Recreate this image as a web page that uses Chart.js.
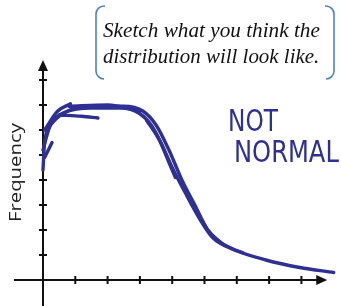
<!DOCTYPE html>
<html>
<head>
<meta charset="utf-8">
<script src="https://cdn.jsdelivr.net/npm/chart.js@4/dist/chart.umd.min.js"></script>
<style>
  html, body { margin: 0; padding: 0; background: #fff; }
  #wrap { position: relative; width: 341px; height: 306px; overflow: hidden; }
  canvas { position: absolute; left: 0; top: 0; }
  .txt { position: absolute; white-space: nowrap; transform-origin: 0 0; line-height: 1; }
  .prompt { font-family: "Liberation Serif", serif; font-style: italic; font-size: 22px; color: #111; }
  .hand { font-family: "DejaVu Sans Condensed", "DejaVu Sans", sans-serif; font-size: 31px; color: #2E3192; }
  #freq { font-family: "Open Sans", sans-serif; font-size: 16px; color: #222; }
</style>
</head>
<body>
<div id="wrap">
  <canvas id="c" width="341" height="306"></canvas>
  <div class="txt prompt" id="p1">Sketch what you think the</div>
  <div class="txt prompt" id="p2">distribution will look like.</div>
  <div class="txt hand" id="n1">NOT</div>
  <div class="txt hand" id="n2">NORMAL</div>
  <div class="txt" id="freq">Frequency</div>
</div>
<script>
// tick positions on the sketched axes (no numbers are printed)
const xTicks = [1, 2, 3, 4, 5, 6, 7, 8];
const yTicks = [1, 2, 3, 4, 5, 6, 7, 8];

// the pen strokes (x = bins, y = frequency)
const strokeMain = [[0, 5.2], [0.2, 6.1], [0.7, 6.72], [1.5, 6.88], [2.4, 6.88], [3.0, 6.65], [3.35, 6.2], [3.65, 5.5], [4.0, 4.5], [4.4, 3.5], [4.85, 2.45], [5.25, 1.7], [5.9, 1.22], [6.9, 0.8], [7.95, 0.5], [9.0, 0.3]];
const strokeTwo = [[0, 4.4], [0.05, 5.5], [0.3, 6.3], [0.8, 6.78], [1.6, 6.95], [2.5, 6.95], [3.1, 6.75], [3.5, 6.2], [3.9, 5.2], [4.3, 4.0], [4.7, 3.0], [5.1, 2.0], [5.5, 1.5]];
const strokeTip = [[0.05, 6.0], [0.45, 6.75], [0.85, 7.05]];
const strokeLow = [[0.5, 6.6], [1.2, 6.55], [1.7, 6.48]];
const strokeTop = [[0.8, 6.95], [2.0, 7.0], [3.0, 6.75]];
const strokeNick = [[0.05, 4.9], [0.28, 5.5]];
const strokeMid = [[3.2, 6.4], [3.6, 5.6], [3.9, 4.7], [4.1, 4.1]];
const strokeLate = [[4.3, 3.9], [4.7, 2.9], [5.1, 2.0], [5.4, 1.6], [5.85, 1.25], [6.2, 1.08]];

const pen = '#2E3192';
const strokes = [strokeMain, strokeTwo, strokeTip, strokeLow, strokeTop, strokeNick, strokeMid, strokeLate];

const axesPlugin = {
  id: 'sketchAxes',
  beforeDatasetsDraw(chart) {
    const { ctx, scales: { x, y } } = chart;
    const ox = x.getPixelForValue(0), oy = y.getPixelForValue(0);
    const xEnd = x.getPixelForValue(8.8), yEnd = y.getPixelForValue(8.8);
    ctx.save();
    ctx.strokeStyle = '#111';
    ctx.fillStyle = '#111';
    ctx.lineWidth = 2;
    ctx.beginPath();
    ctx.moveTo(x.getPixelForValue(-0.9), oy);
    ctx.lineTo(xEnd - 6, oy);
    ctx.moveTo(ox, y.getPixelForValue(-1.1));
    ctx.lineTo(ox, yEnd + 6);
    ctx.stroke();
    xTicks.forEach(t => {
      const px = x.getPixelForValue(t);
      ctx.beginPath(); ctx.moveTo(px, oy - 4); ctx.lineTo(px, oy + 4); ctx.stroke();
    });
    yTicks.forEach(t => {
      const py = y.getPixelForValue(t);
      ctx.beginPath(); ctx.moveTo(ox - 4, py); ctx.lineTo(ox + 4, py); ctx.stroke();
    });
    // arrow heads
    ctx.beginPath();
    ctx.moveTo(xEnd, oy); ctx.lineTo(xEnd - 11, oy - 5); ctx.lineTo(xEnd - 11, oy + 5); ctx.closePath(); ctx.fill();
    ctx.beginPath();
    ctx.moveTo(ox, yEnd); ctx.lineTo(ox - 5, yEnd + 11); ctx.lineTo(ox + 5, yEnd + 11); ctx.closePath(); ctx.fill();

    // bracket box round the prompt
    ctx.strokeStyle = '#4F81BD';
    ctx.lineWidth = 1.6;
    const L = 96, R = 334, T = 6, B = 79, r = 8;
    ctx.beginPath();
    ctx.moveTo(L + 9, T); ctx.arcTo(L, T, L, T + r, r); ctx.lineTo(L, B - r); ctx.arcTo(L, B, L + 9, B, r);
    ctx.moveTo(R - 9, T); ctx.arcTo(R, T, R, T + r, r); ctx.lineTo(R, B - r); ctx.arcTo(R, B, R - 9, B, r);
    ctx.stroke();
    ctx.restore();
  }
};

new Chart(document.getElementById('c'), {
  type: 'line',
  data: {
    datasets: strokes.map(s => ({
      data: s.map(([a, b]) => ({ x: a, y: b })),
      borderColor: pen,
      borderWidth: 3.4,
      borderCapStyle: 'round',
      borderJoinStyle: 'round',
      cubicInterpolationMode: 'monotone',
      pointRadius: 0,
      fill: false
    }))
  },
  options: {
    responsive: false,
    animation: false,
    layout: { padding: 0 },
    plugins: { legend: { display: false }, tooltip: { enabled: false } },
    scales: {
      x: { type: 'linear', display: false, min: -1.331, max: 9.226 },
      y: { type: 'linear', display: false, min: -1.04, max: 11.2 }
    }
  },
  plugins: [axesPlugin]
});

function place(id, left, top, width) {
  const el = document.getElementById(id);
  el.style.left = left + 'px';
  el.style.top = top + 'px';
  if (width) el.style.transform = `scaleX(${width / el.offsetWidth})`;
}
place('p1', 103, 19, 217);
place('p2', 103, 45, 216);
place('n1', 228, 105, 50);
place('n2', 234, 136, 105);
const f = document.getElementById('freq');
f.style.left = '7px';
f.style.top = '222px';
f.style.transform = `rotate(-90deg) scaleX(${99 / f.offsetWidth})`;
</script>
</body>
</html>
